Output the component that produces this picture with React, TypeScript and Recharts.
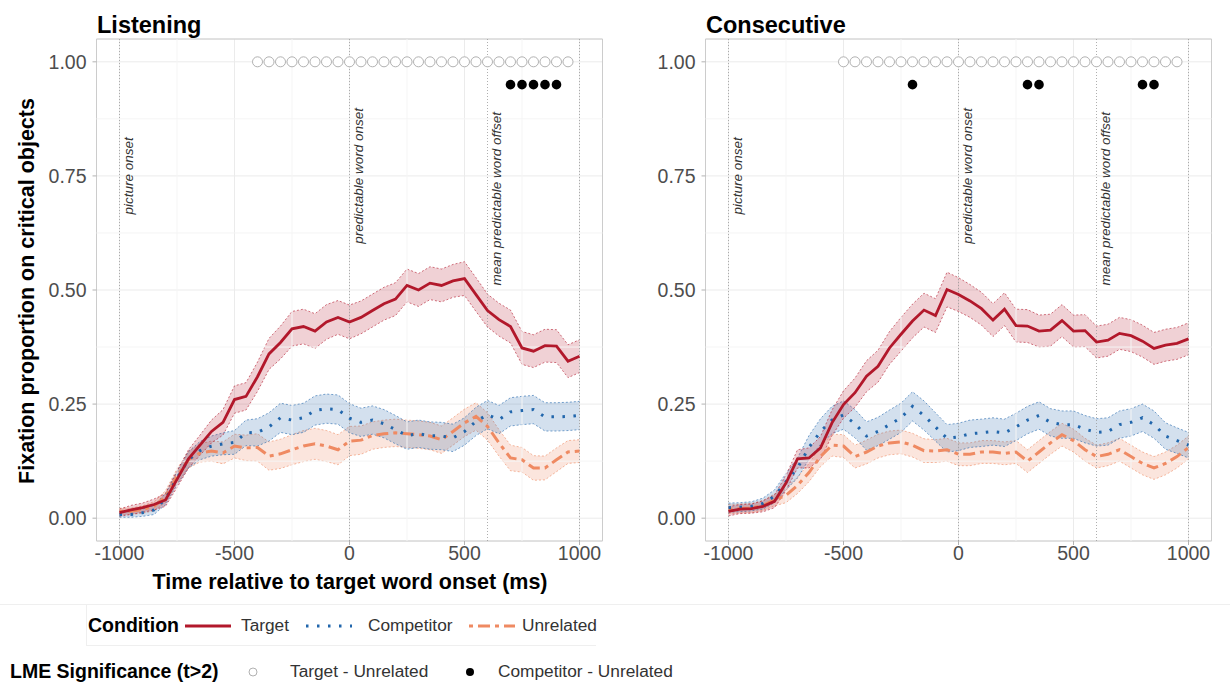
import React from 'react';
import {
  Area,
  CartesianGrid,
  ComposedChart,
  Line,
  ReferenceArea,
  ReferenceLine,
  Scatter,
  XAxis,
  YAxis,
} from 'recharts';

const FONT = '"Liberation Sans", Arial, Helvetica, sans-serif';

const RED = '#B2182B';
const BLUE = '#2166AC';
const ORANGE = '#EF8A62';

// time bins (ms relative to target word onset)
const TIME = [
  -1000, -950, -900, -850, -800, -750, -700, -650, -600, -550, -500, -450, -400, -350, -300, -250, -200, -150,
  -100, -50, 0, 50, 100, 150, 200, 250, 300, 350, 400, 450, 500, 550, 600, 650, 700, 750, 800, 850, 900, 950, 1000,
];

// Listening
const listenTarget = [
  0.012, 0.018, 0.023, 0.03, 0.04, 0.085, 0.13, 0.16, 0.19, 0.21, 0.26, 0.267, 0.31, 0.36, 0.385, 0.415, 0.42, 0.41,
  0.43, 0.44, 0.43, 0.44, 0.455, 0.47, 0.48, 0.51, 0.5, 0.515, 0.51, 0.52, 0.525, 0.49, 0.455, 0.435, 0.42, 0.373,
  0.366, 0.378, 0.377, 0.344, 0.355,
];
const listenComp = [
  0.008, 0.008, 0.012, 0.018, 0.042, 0.088, 0.128, 0.148, 0.158, 0.163, 0.166, 0.187, 0.188, 0.2, 0.22, 0.215, 0.22,
  0.236, 0.24, 0.238, 0.219, 0.21, 0.215, 0.207, 0.194, 0.181, 0.185, 0.181, 0.18, 0.176, 0.19, 0.212, 0.227, 0.216,
  0.233, 0.236, 0.238, 0.222, 0.222, 0.223, 0.225,
];
const listenUnrel = [
  0.015, 0.015, 0.019, 0.026, 0.047, 0.092, 0.128, 0.143, 0.147, 0.143, 0.158, 0.154, 0.155, 0.136, 0.141, 0.15,
  0.158, 0.163, 0.158, 0.15, 0.169, 0.171, 0.181, 0.185, 0.187, 0.185, 0.183, 0.18, 0.172, 0.19, 0.209, 0.223, 0.201,
  0.165, 0.132, 0.128, 0.11, 0.11, 0.128, 0.145, 0.147,
];
const listenTargetCI = [
  0.008, 0.01, 0.01, 0.012, 0.014, 0.018, 0.02, 0.022, 0.025, 0.028, 0.03, 0.03, 0.032, 0.034, 0.036, 0.038, 0.038,
  0.038, 0.038, 0.037, 0.037, 0.036, 0.036, 0.036, 0.036, 0.036, 0.036, 0.036, 0.036, 0.036, 0.037, 0.037, 0.036,
  0.036, 0.036, 0.036, 0.036, 0.036, 0.036, 0.036, 0.036,
];
const listenCompCI = [
  0.006, 0.006, 0.008, 0.01, 0.012, 0.015, 0.018, 0.02, 0.022, 0.024, 0.026, 0.028, 0.03, 0.031, 0.032, 0.032, 0.032,
  0.032, 0.032, 0.032, 0.032, 0.031, 0.031, 0.031, 0.031, 0.03, 0.03, 0.03, 0.03, 0.03, 0.03, 0.031, 0.031, 0.031,
  0.031, 0.031, 0.031, 0.031, 0.031, 0.031, 0.031,
];
const listenUnrelCI = [
  0.007, 0.007, 0.008, 0.01, 0.013, 0.016, 0.018, 0.02, 0.022, 0.024, 0.026, 0.028, 0.03, 0.031, 0.032, 0.033, 0.034,
  0.034, 0.034, 0.033, 0.032, 0.031, 0.03, 0.03, 0.03, 0.03, 0.03, 0.03, 0.03, 0.03, 0.03, 0.03, 0.03, 0.029, 0.028,
  0.027, 0.027, 0.026, 0.026, 0.025, 0.025,
];

// Consecutive
const consecTarget = [
  0.015, 0.02, 0.021, 0.026, 0.037, 0.077, 0.13, 0.132, 0.154, 0.209, 0.249, 0.275, 0.311, 0.333, 0.373, 0.403, 0.432,
  0.456, 0.444, 0.501, 0.49, 0.476, 0.459, 0.434, 0.458, 0.422, 0.421, 0.41, 0.412, 0.433, 0.41, 0.411, 0.386, 0.39,
  0.405, 0.4, 0.388, 0.372, 0.379, 0.383, 0.393,
];
const consecComp = [
  0.023, 0.024, 0.026, 0.032, 0.048, 0.08, 0.11, 0.155, 0.19, 0.215, 0.226, 0.207, 0.18, 0.19, 0.205, 0.22, 0.245,
  0.225, 0.2, 0.175, 0.178, 0.185, 0.187, 0.19, 0.187, 0.2, 0.215, 0.225, 0.21, 0.205, 0.205, 0.195, 0.188, 0.19,
  0.205, 0.21, 0.22, 0.205, 0.18, 0.17, 0.16,
];
const consecUnrel = [
  0.02, 0.021, 0.022, 0.028, 0.04, 0.05, 0.072, 0.1, 0.135, 0.16, 0.158, 0.135, 0.145, 0.158, 0.165, 0.167, 0.16,
  0.148, 0.147, 0.15, 0.14, 0.14, 0.145, 0.145, 0.142, 0.145, 0.125, 0.145, 0.165, 0.183, 0.17, 0.15, 0.135, 0.14,
  0.15, 0.135, 0.12, 0.11, 0.12, 0.135, 0.155,
];
const consecTargetCI = [
  0.01, 0.01, 0.01, 0.012, 0.014, 0.017, 0.02, 0.022, 0.025, 0.028, 0.03, 0.032, 0.034, 0.035, 0.036, 0.037, 0.037,
  0.037, 0.037, 0.038, 0.037, 0.036, 0.036, 0.036, 0.036, 0.036, 0.036, 0.035, 0.035, 0.035, 0.035, 0.035, 0.035,
  0.035, 0.035, 0.035, 0.035, 0.035, 0.035, 0.035, 0.035,
];
const consecCompCI = [
  0.01, 0.01, 0.01, 0.012, 0.014, 0.018, 0.022, 0.026, 0.028, 0.03, 0.031, 0.031, 0.031, 0.031, 0.032, 0.032, 0.032,
  0.032, 0.031, 0.03, 0.03, 0.03, 0.03, 0.03, 0.03, 0.03, 0.03, 0.03, 0.03, 0.03, 0.03, 0.03, 0.03, 0.03, 0.03, 0.03,
  0.03, 0.03, 0.029, 0.028, 0.028,
];
const consecUnrelCI = [
  0.01, 0.01, 0.01, 0.011, 0.013, 0.016, 0.018, 0.02, 0.022, 0.024, 0.025, 0.025, 0.026, 0.026, 0.026, 0.026, 0.026,
  0.026, 0.025, 0.025, 0.025, 0.025, 0.025, 0.025, 0.025, 0.025, 0.025, 0.025, 0.025, 0.025, 0.025, 0.025, 0.025,
  0.025, 0.025, 0.025, 0.025, 0.025, 0.025, 0.025, 0.025,
];

// LME significance (t > 2)
const listenSigTarget = [
  -400, -350, -300, -250, -200, -150, -100, -50, 0, 50, 100, 150, 200, 250, 300, 350, 400, 450, 500, 550, 600, 650,
  700, 750, 800, 850, 900, 950,
];
const listenSigComp = [700, 750, 800, 850, 900];
const consecSigTarget = [
  -500, -450, -400, -350, -300, -250, -200, -150, -100, -50, 0, 50, 100, 150, 200, 250, 300, 350, 400, 450, 500, 550,
  600, 650, 700, 750, 800, 850, 900, 950,
];
const consecSigComp = [-200, 300, 350, 800, 850];

const X_TICKS = [-1000, -500, 0, 500, 1000];
const Y_TICKS = [0, 0.25, 0.5, 0.75, 1];
const X_MINOR = [-750, -250, 250, 750];
const Y_MINOR = [0.125, 0.375, 0.625, 0.875];

const MARKERS = [
  { t: -1000, text: 'picture onset', y: 0.75 },
  { t: 0, text: 'predictable word onset', y: 0.75 },
  { t: 600, text: 'mean predictable word offset', y: 0.7 },
];

function buildRows(tg: number[], cp: number[], ur: number[], tgCI: number[], cpCI: number[], urCI: number[]) {
  return TIME.map((t, i) => ({
    t,
    target: tg[i],
    comp: cp[i],
    unrel: ur[i],
    targetBand: [tg[i] - tgCI[i], tg[i] + tgCI[i]],
    compBand: [cp[i] - cpCI[i], cp[i] + cpCI[i]],
    unrelBand: [ur[i] - urCI[i], ur[i] + urCI[i]],
  }));
}

function VLabel(props: any) {
  const { viewBox, text, yv } = props;
  if (!viewBox) return null;
  const x = viewBox.x + 9;
  const y = viewBox.y + (viewBox.height * (1.05 - yv)) / 1.1;
  return (
    <text
      x={x}
      y={y}
      transform={`rotate(-90 ${x} ${y})`}
      textAnchor="middle"
      dominantBaseline="central"
      fontSize={13.5}
      fontStyle="italic"
      fontFamily={FONT}
      fill="#333"
    >
      {text}
    </text>
  );
}

const OpenDot = (p: any) => <circle cx={p.cx} cy={p.cy} r={5} fill="#fff" stroke="#a8a8a8" strokeWidth={0.9} />;
const FilledDot = (p: any) => <circle cx={p.cx} cy={p.cy} r={4.8} fill="#000" />;

interface PanelProps {
  title: string;
  left: number;
  rows: ReturnType<typeof buildRows>;
  sigTarget: number[];
  sigComp: number[];
}

function Panel({ title, left, rows, sigTarget, sigComp }: PanelProps) {
  const openData = sigTarget.map((t) => ({ t, y: 1 }));
  const filledData = sigComp.map((t) => ({ t, y: 0.95 }));
  const tick = { fill: '#4d4d4d', fontSize: 19.5, fontFamily: FONT };
  return (
    <div style={{ position: 'absolute', left, top: 0, width: 610, height: 600 }}>
      <div
        style={{
          position: 'absolute',
          left: 97,
          top: 11,
          fontFamily: FONT,
          fontWeight: 'bold',
          fontSize: 23.5,
          lineHeight: '28px',
          color: '#000',
        }}
      >
        {title}
      </div>
      <ComposedChart width={610} height={600} data={rows} margin={{ top: 39, right: 7.5, bottom: 19, left: 0 }}>
        <CartesianGrid stroke="#ebebeb" strokeWidth={1} />
        {X_MINOR.map((v) => (
          <ReferenceLine key={'xm' + v} x={v} stroke="#f5f5f5" strokeWidth={1} />
        ))}
        {Y_MINOR.map((v) => (
          <ReferenceLine key={'ym' + v} y={v} stroke="#f5f5f5" strokeWidth={1} />
        ))}
        <XAxis
          dataKey="t"
          type="number"
          domain={[-1100, 1100]}
          ticks={X_TICKS}
          interval={0}
          allowDataOverflow
          axisLine={false}
          tickLine={{ stroke: '#b3b3b3' }}
          tickSize={4}
          tickMargin={1}
          height={40}
          tick={tick}
        />
        <YAxis
          type="number"
          domain={[-0.05, 1.05]}
          ticks={Y_TICKS}
          interval={0}
          allowDataOverflow
          axisLine={false}
          tickLine={{ stroke: '#b3b3b3' }}
          tickSize={4}
          tickMargin={6}
          width={96.5}
          tick={tick}
          tickFormatter={(v: number) => v.toFixed(2)}
        />
        <ReferenceArea x1={-1100} x2={1100} y1={-0.05} y2={1.05} fill="none" stroke="#cccccc" strokeWidth={1} />
        {[...MARKERS.map((m) => m.t), 1000].map((t) => (
          <ReferenceLine key={'v' + t} x={t} stroke="#9a9a9a" strokeWidth={0.8} strokeDasharray="1 2" />
        ))}
        {MARKERS.map((m) => (
          <ReferenceLine
            key={'lab' + m.t}
            x={m.t}
            stroke="none"
            label={<VLabel text={m.text} yv={m.y} />}
          />
        ))}
        <Area
          dataKey="unrelBand"
          type="linear"
          fill={ORANGE}
          fillOpacity={0.22}
          stroke={ORANGE}
          strokeWidth={0.6}
          strokeDasharray="2 2"
          isAnimationActive={false}
          activeDot={false}
        />
        <Area
          dataKey="compBand"
          type="linear"
          fill={BLUE}
          fillOpacity={0.2}
          stroke={BLUE}
          strokeWidth={0.6}
          strokeDasharray="2 2"
          isAnimationActive={false}
          activeDot={false}
        />
        <Area
          dataKey="targetBand"
          type="linear"
          fill={RED}
          fillOpacity={0.2}
          stroke={RED}
          strokeWidth={0.6}
          strokeDasharray="2 2"
          isAnimationActive={false}
          activeDot={false}
        />
        <Line
          dataKey="unrel"
          type="linear"
          stroke={ORANGE}
          strokeWidth={3}
          strokeDasharray="4 5 12 5"
          dot={false}
          activeDot={false}
          isAnimationActive={false}
        />
        <Line
          dataKey="comp"
          type="linear"
          stroke={BLUE}
          strokeWidth={3}
          strokeDasharray="2.5 8.5"
          dot={false}
          activeDot={false}
          isAnimationActive={false}
        />
        <Line
          dataKey="target"
          type="linear"
          stroke={RED}
          strokeWidth={2.8}
          dot={false}
          activeDot={false}
          isAnimationActive={false}
        />
        <Scatter data={openData} dataKey="y" shape={OpenDot} isAnimationActive={false} />
        <Scatter data={filledData} dataKey="y" shape={FilledDot} isAnimationActive={false} />
      </ComposedChart>
    </div>
  );
}

function LegendLine({ color, dash, width }: { color: string; dash?: string; width: number }) {
  return (
    <svg width={48} height={10} style={{ display: 'block' }}>
      <line x1={1} y1={5} x2={47} y2={5} stroke={color} strokeWidth={width} strokeDasharray={dash} />
    </svg>
  );
}

export default function App() {
  const listenRows = buildRows(listenTarget, listenComp, listenUnrel, listenTargetCI, listenCompCI, listenUnrelCI);
  const consecRows = buildRows(consecTarget, consecComp, consecUnrel, consecTargetCI, consecCompCI, consecUnrelCI);
  const label: React.CSSProperties = { position: 'absolute', fontFamily: FONT, fontSize: 17.3, color: '#333' };
  const bold: React.CSSProperties = { position: 'absolute', fontFamily: FONT, fontSize: 19.5, fontWeight: 'bold', color: '#000' };
  return (
    <div style={{ position: 'relative', width: 1230, height: 684, background: '#fff', overflow: 'hidden' }}>
      <style>{'body{margin:0}'}</style>
      <Panel title="Listening" left={0} rows={listenRows} sigTarget={listenSigTarget} sigComp={listenSigComp} />
      <Panel title="Consecutive" left={609} rows={consecRows} sigTarget={consecSigTarget} sigComp={consecSigComp} />

      {/* y axis title */}
      <div
        style={{
          position: 'absolute',
          left: 27,
          top: 291,
          transform: 'translate(-50%, -50%) rotate(-90deg)',
          whiteSpace: 'nowrap',
          fontFamily: FONT,
          fontWeight: 'bold',
          fontSize: 21.5,
        }}
      >
        Fixation proportion on critical objects
      </div>
      {/* x axis title */}
      <div
        style={{
          position: 'absolute',
          left: 350,
          top: 582,
          transform: 'translate(-50%, -50%)',
          whiteSpace: 'nowrap',
          fontFamily: FONT,
          fontWeight: 'bold',
          fontSize: 21.5,
        }}
      >
        Time relative to target word onset (ms)
      </div>

      {/* legend backgrounds */}
      <div style={{ position: 'absolute', left: 0, top: 604, width: 1230, height: 1, background: '#efefef' }} />
      <div
        style={{
          position: 'absolute',
          left: 86,
          top: 604,
          width: 509,
          height: 41,
          borderLeft: '1px solid #efefef',
          borderBottom: '1px solid #efefef',
        }}
      />

      {/* Condition legend */}
      <div style={{ ...bold, left: 88, top: 614 }}>Condition</div>
      <div style={{ position: 'absolute', left: 184, top: 621 }}>
        <LegendLine color={RED} width={3} />
      </div>
      <div style={{ ...label, left: 241, top: 615 }}>Target</div>
      <div style={{ position: 'absolute', left: 305, top: 621 }}>
        <LegendLine color={BLUE} width={3} dash="2.5 8.5" />
      </div>
      <div style={{ ...label, left: 368, top: 615 }}>Competitor</div>
      <div style={{ position: 'absolute', left: 468, top: 621 }}>
        <LegendLine color={ORANGE} width={3} dash="4 5 12 5" />
      </div>
      <div style={{ ...label, left: 522, top: 615 }}>Unrelated</div>

      {/* Significance legend */}
      <div style={{ ...bold, left: 10, top: 660 }}>LME Significance (t&gt;2)</div>
      <svg style={{ position: 'absolute', left: 247, top: 666 }} width={12} height={12}>
        <circle cx={6} cy={6} r={4} fill="#fff" stroke="#a8a8a8" strokeWidth={0.9} />
      </svg>
      <div style={{ ...label, left: 290, top: 661 }}>Target - Unrelated</div>
      <svg style={{ position: 'absolute', left: 464, top: 666 }} width={12} height={12}>
        <circle cx={6} cy={6} r={4} fill="#000" />
      </svg>
      <div style={{ ...label, left: 498, top: 661 }}>Competitor - Unrelated</div>
    </div>
  );
}
